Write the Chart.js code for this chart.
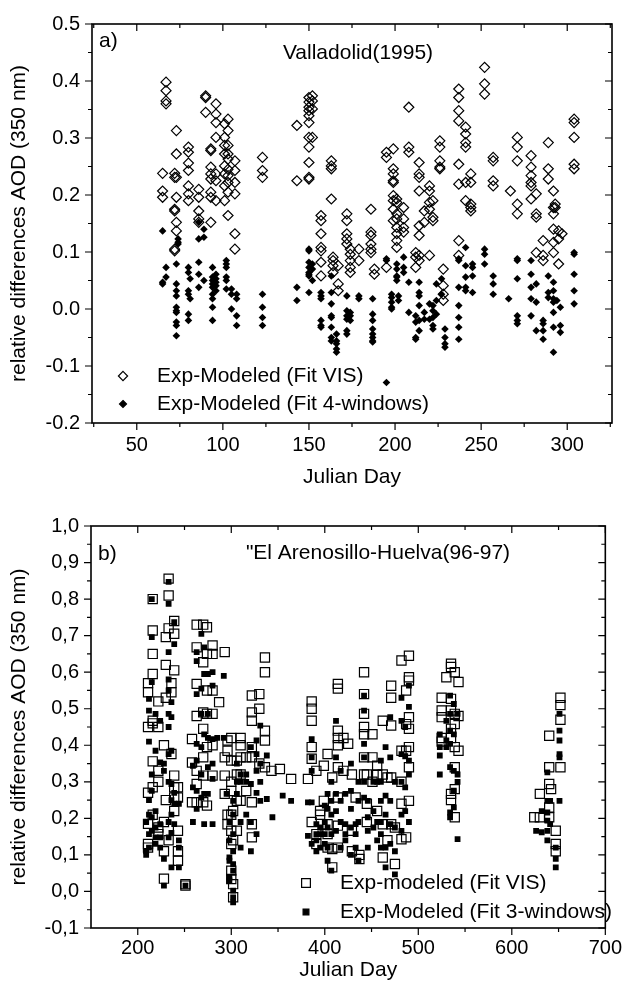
<!DOCTYPE html>
<html>

<head>
    <title>aod_relative_differences</title>
    <script src="https://cdn.jsdelivr.net/npm/chart.js"></script>
    <style>
        body {
            margin: 0;
            background: #fff;
        }

        .panel {
            position: absolute;
            left: 0;
            width: 630px;
            height: 495px;
        }

        #panelA { top: 0; }
        #panelB { top: 495px; }
    </style>
</head>

<body>
    <div class="panel" id="panelA"><canvas id="chartA"></canvas></div>
    <div class="panel" id="panelB"><canvas id="chartB"></canvas></div>
    <script>
        // ---- panel a) Valladolid 1995 : [julian day, [values...]] ----
        const visA = [
            [65, [0.238, 0.207, 0.196]], [67, [0.398, 0.383, 0.365, 0.36]],
            [72, [0.238, 0.231, 0.172, 0.175, 0.105, 0.102]], [73, [0.196, 0.272, 0.313, 0.231, 0.152, 0.137]],
            [80, [0.284, 0.275, 0.256, 0.243, 0.216, 0.202, 0.19]], [86, [0.21, 0.196, 0.172, 0.158, 0.152]],
            [90, [0.374, 0.371, 0.345]], [93, [0.281, 0.278, 0.249, 0.237, 0.228, 0.205, 0.196, 0.152]],
            [96, [0.36, 0.342, 0.327, 0.301, 0.237, 0.225, 0.19]],
            [101, [0.325, 0.301, 0.287, 0.272, 0.251, 0.237, 0.216, 0.19]],
            [103, [0.333, 0.313, 0.287, 0.272, 0.263, 0.245, 0.234, 0.222, 0.205, 0.164]],
            [107, [0.26, 0.243, 0.222, 0.202, 0.132, 0.105]], [123, [0.266, 0.243, 0.231]],
            [143, [0.322, 0.225]],
            [150, [0.371, 0.363, 0.354, 0.348, 0.339, 0.327, 0.301, 0.284, 0.257, 0.231, 0.228]],
            [152, [0.374, 0.365, 0.351, 0.301]], [157, [0.164, 0.155, 0.132, 0.108, 0.102, 0.082, 0.058]],
            [163, [0.26, 0.251, 0.246, 0.193]], [164, [0.091, 0.085, 0.076, 0.064]], [167, [0.076, 0.044, 0.032]],
            [172, [0.167, 0.155, 0.132, 0.123, 0.114]], [174, [0.105, 0.096, 0.085, 0.073, 0.064]],
            [179, [0.105, 0.085]], [186, [0.175, 0.135, 0.129, 0.114, 0.105, 0.099]], [188, [0.07, 0.061]],
            [195, [0.275, 0.266, 0.073]], [199, [0.281, 0.246, 0.237, 0.225, 0.222, 0.199, 0.19, 0.175, 0.155]],
            [201, [0.193, 0.187, 0.167, 0.158, 0.143, 0.132, 0.12, 0.108]], [205, [0.178, 0.158, 0.143, 0.135]],
            [208, [0.354, 0.284, 0.275]], [212, [0.099, 0.091, 0.073]],
            [214, [0.257, 0.237, 0.231, 0.207, 0.146, 0.129, 0.094, 0.085]], [217, [0.172, 0.152]],
            [220, [0.216, 0.207, 0.187, 0.175, 0.094]], [222, [0.19, 0.161, 0.155]],
            [226, [0.295, 0.284, 0.26, 0.249, 0.246]], [228, [0.07, 0.041, 0.026, 0.015]],
            [237, [0.386, 0.371, 0.348, 0.33, 0.254, 0.219, 0.12, 0.094]],
            [241, [0.319, 0.307, 0.292, 0.284, 0.222, 0.19]], [244, [0.237, 0.222, 0.184, 0.178, 0.172]],
            [252, [0.424, 0.395, 0.377]], [257, [0.266, 0.26, 0.225, 0.216]], [267, [0.207]],
            [271, [0.301, 0.284, 0.26, 0.184, 0.167]], [279, [0.269, 0.249, 0.234, 0.222, 0.216, 0.193]],
            [282, [0.202, 0.167, 0.161, 0.099]], [286, [0.12, 0.094, 0.085]], [289, [0.292, 0.246, 0.228]],
            [292, [0.207, 0.178, 0.167, 0.14, 0.117, 0.099]], [293, [0.184, 0.178]],
            [295, [0.137, 0.123, 0.079]], [297, [0.132]], [304, [0.333, 0.327, 0.301, 0.254, 0.246]]
        ];
        const fourA = [
            [65, [0.137, 0.047, 0.044]], [67, [0.073, 0.056]],
            [73, [0.079, 0.044, 0.032, 0.023, 0.003, -0.003, -0.006, -0.023, -0.029, -0.047]],
            [74, [0.123, 0.117, 0.114]], [80, [0.073, 0.064, 0.032, 0.026, -0.009, -0.02]], [81, [0.053, 0.018]],
            [86, [0.152, 0.123, 0.082, 0.061, 0.038]], [89, [0.14, 0.126, 0.05]],
            [94, [0.073, 0.056, 0.05, 0.044, 0.038, 0.026, 0.018, 0.003, -0.02]],
            [96, [0.061, 0.053, 0.047, 0.041, 0.032]], [102, [0.085, 0.079, 0.073, 0.056, 0.05, 0.035]],
            [105, [0.035, 0.026, 0.0]], [108, [0.026, 0.018, -0.012, -0.029]],
            [123, [0.026, 0.003, -0.015, -0.029]], [143, [0.038, 0.015]],
            [150, [0.105, 0.102, 0.082, 0.073, 0.064, 0.061, 0.058, 0.029]], [152, [0.079, 0.07, 0.05]],
            [157, [0.029, 0.023, 0.018, -0.02, -0.029, -0.032]],
            [163, [0.058, 0.029, 0.009, -0.012, -0.015, -0.032, -0.05, -0.056]],
            [166, [-0.044, -0.056, -0.061, -0.07, -0.076]], [172, [0.023, -0.003, -0.012, -0.018, -0.038, -0.044]],
            [174, [-0.006, -0.012, -0.02]], [179, [0.023, 0.018]],
            [187, [0.018, -0.009, -0.02, -0.035, -0.044, -0.05, -0.056, -0.058]], [195, [0.088, 0.085, -0.129]],
            [198, [0.026, 0.02, 0.012, 0.003, 0.0]], [201, [0.079, 0.07, 0.058, 0.056, 0.05]],
            [202, [0.023, 0.015]], [205, [0.091, 0.073, 0.064]], [208, [0.047, -0.006]],
            [212, [-0.012, -0.023, -0.05, -0.053]], [214, [0.047, 0.029, 0.023, 0.006, -0.02, -0.038]],
            [217, [-0.006, -0.018]], [220, [0.009, -0.018]], [222, [0.006, -0.003, -0.015, -0.029, -0.035]],
            [224, [0.044, 0.015, -0.009]], [227, [0.053, 0.026]], [229, [-0.035, -0.05, -0.061, -0.067]],
            [237, [0.088, 0.085, 0.038, 0.006, -0.015, -0.032, -0.053]], [241, [0.108, 0.076, 0.056, 0.038, 0.032]],
            [245, [0.079, 0.073, 0.058, 0.029]], [252, [0.105, 0.096, 0.079]], [257, [0.058, 0.044, 0.026]],
            [266, [0.018]], [271, [0.088, 0.085, 0.053, -0.012, -0.02, -0.026]],
            [279, [0.085, 0.061, 0.038, 0.018, -0.012]], [282, [0.044, 0.012, -0.038]],
            [286, [-0.02, -0.026, -0.038, -0.053]], [289, [0.058, 0.029, 0.02]],
            [292, [0.047, 0.032, 0.018, 0.012, -0.006, -0.032, -0.076]], [294, [0.015]],
            [296, [0.003, -0.029, -0.041]], [304, [0.099, 0.096, 0.061, 0.032, 0.009]]
        ];

        // ---- panel b) El Arenosillo-Huelva 96-97 ----
        const visB = [
            [211, [0.57, 0.545, 0.45, 0.27, 0.185, 0.13, 0.12]],
            [216, [0.8, 0.714, 0.65, 0.595, 0.467, 0.46, 0.356, 0.285, 0.21]],
            [222, [0.52, 0.45, 0.33, 0.3, 0.175, 0.157]], [228, [0.4, 0.19, 0.11, 0.035]],
            [230, [0.696, 0.62, 0.53, 0.25]], [233, [0.856, 0.81, 0.72, 0.14]], [236, [0.57, 0.545, 0.376]],
            [239, [0.74, 0.705, 0.605, 0.317, 0.285, 0.257, 0.22]], [243, [0.285, 0.257, 0.166, 0.11, 0.084]],
            [251, [0.02, 0.016]], [258, [0.417, 0.353, 0.244]],
            [263, [0.73, 0.668, 0.568, 0.48, 0.33, 0.294, 0.244]], [270, [0.73, 0.627, 0.49, 0.445, 0.367, 0.317, 0.244]],
            [274, [0.723, 0.65, 0.55, 0.486, 0.395, 0.235]], [280, [0.673, 0.65, 0.55, 0.486, 0.4, 0.317]],
            [287, [0.518]], [293, [0.655, 0.367, 0.317, 0.267]], [296, [0.413, 0.385, 0.21, 0.184]],
            [300, [0.42, 0.358, 0.3, 0.275, 0.21, 0.166, 0.13, 0.057, 0.034]], [302, [0.22, 0.14, 0.02, -0.016]],
            [306, [0.358, 0.32, 0.248, 0.166]], [310, [0.42, 0.4, 0.367, 0.32, 0.248]], [316, [0.367, 0.275]],
            [322, [0.536, 0.49, 0.467, 0.395, 0.367, 0.244, 0.184, 0.148]], [330, [0.54, 0.5, 0.35]],
            [336, [0.64, 0.6, 0.44, 0.413, 0.34]], [343, [0.33]], [352, [0.335]], [364, [0.308]],
            [382, [0.308]], [386, [0.52, 0.5, 0.467, 0.395, 0.363, 0.19]], [391, [0.33, 0.157, 0.13]],
            [395, [0.22, 0.21]], [399, [0.344, 0.248]], [403, [0.376, 0.184, 0.157, 0.12]],
            [408, [0.312, 0.116, 0.066]], [414, [0.568, 0.555, 0.44, 0.42, 0.4, 0.34, 0.257, 0.18, 0.12]],
            [420, [0.42, 0.33]], [425, [0.404]], [429, [0.32, 0.166, 0.11]], [433, [0.257]], [437, [0.1, 0.089]],
            [442, [0.6, 0.54, 0.486, 0.45, 0.43, 0.367, 0.32]], [445, [0.32, 0.24, 0.19]],
            [451, [0.43, 0.367, 0.3]], [456, [0.344, 0.32, 0.22]], [462, [0.467, 0.32, 0.184, 0.093]],
            [467, [0.312, 0.14]], [471, [0.563, 0.53, 0.454, 0.312, 0.184]], [475, [0.175, 0.075]],
            [482, [0.632, 0.385, 0.3, 0.24, 0.143]], [487, [0.55, 0.458, 0.385, 0.148]],
            [490, [0.645, 0.586, 0.577, 0.477, 0.445, 0.395, 0.34, 0.248]],
            [525, [0.53, 0.495, 0.477, 0.42, 0.41]], [530, [0.586]],
            [535, [0.623, 0.614, 0.527, 0.495, 0.445, 0.42, 0.267, 0.25]],
            [539, [0.6, 0.486, 0.458, 0.395, 0.34, 0.28, 0.203]], [543, [0.573, 0.48, 0.385]],
            [624, [0.203]], [630, [0.267, 0.203]], [640, [0.426, 0.34, 0.294, 0.23, 0.203]], [642, [0.28]],
            [647, [0.166, 0.13, 0.11]], [652, [0.53, 0.51, 0.47, 0.34]]
        ];
        const threeB = [
            [209, [0.19, 0.11, 0.1]], [212, [0.527, 0.495, 0.41, 0.25, 0.21, 0.157, 0.12]],
            [215, [0.8, 0.696, 0.573, 0.32, 0.275, 0.203, 0.166]], [219, [0.486, 0.385, 0.22, 0.175, 0.148, 0.13]],
            [224, [0.467, 0.353, 0.184, 0.148, 0.12]], [228, [0.35, 0.33, 0.089, 0.016]],
            [233, [0.847, 0.787, 0.655, 0.58, 0.55, 0.486, 0.45, 0.376, 0.3, 0.19, 0.148]],
            [236, [0.518, 0.477, 0.385, 0.294, 0.25, 0.21, 0.16, 0.066]], [239, [0.737, 0.677, 0.27, 0.24, 0.184]],
            [244, [0.24, 0.14, 0.12, 0.066]], [251, [0.016]], [259, [0.344, 0.285, 0.19]],
            [263, [0.655, 0.63, 0.54, 0.404, 0.358, 0.275, 0.226]], [268, [0.705, 0.555, 0.486, 0.395, 0.32, 0.257]],
            [271, [0.668, 0.595, 0.43, 0.267, 0.184]], [275, [0.595, 0.486, 0.42, 0.34, 0.267]],
            [280, [0.6, 0.563, 0.417, 0.35, 0.308, 0.184]], [285, [0.42]], [292, [0.59, 0.42]], [295, [0.267]],
            [298, [0.19, 0.14, 0.093, 0.084, 0.038, 0.03]],
            [302, [0.248, 0.21, 0.157, 0.11, 0.075, 0.057, 0.002, -0.016, -0.03]],
            [306, [0.35, 0.3, 0.267]], [310, [0.32, 0.3, 0.19, 0.12]], [316, [0.32, 0.3, 0.21]],
            [321, [0.395, 0.294, 0.19, 0.11]], [327, [0.413, 0.376, 0.33, 0.27, 0.157]],
            [331, [0.454, 0.35, 0.3, 0.248]], [338, [0.372, 0.253]], [344, [0.203]], [355, [0.262]], [364, [0.248]],
            [382, [0.244, 0.152]], [386, [0.417, 0.367, 0.33, 0.244, 0.13]], [391, [0.184, 0.157, 0.14, 0.11]],
            [395, [0.175, 0.157, 0.12]], [400, [0.235, 0.19, 0.157, 0.13]], [403, [0.267, 0.226, 0.175, 0.12, 0.084]],
            [407, [0.3, 0.248, 0.21, 0.157, 0.057]], [412, [0.467, 0.367, 0.267, 0.22, 0.166]],
            [417, [0.33, 0.248, 0.19, 0.12]], [422, [0.267, 0.184, 0.157, 0.14]],
            [428, [0.35, 0.275, 0.226, 0.175, 0.1]], [433, [0.184, 0.157, 0.12]], [436, [0.3, 0.248, 0.19, 0.084]],
            [442, [0.536, 0.495, 0.404, 0.367, 0.3, 0.257]], [446, [0.248, 0.203, 0.166, 0.12]],
            [452, [0.3, 0.22, 0.175]], [456, [0.3, 0.19, 0.14]], [460, [0.358, 0.3, 0.248, 0.19, 0.157, 0.12]],
            [465, [0.395, 0.262, 0.21, 0.12, 0.066]], [470, [0.477, 0.367, 0.248, 0.184, 0.13]],
            [475, [0.3, 0.175, 0.11, 0.047]], [482, [0.53, 0.467, 0.376, 0.3, 0.21, 0.166]],
            [486, [0.45, 0.37, 0.285, 0.22]], [490, [0.563, 0.505, 0.358, 0.32, 0.19]],
            [523, [0.43, 0.395, 0.372, 0.32]], [530, [0.467, 0.413, 0.395]],
            [534, [0.536, 0.486, 0.44, 0.404, 0.34, 0.216, 0.203]], [538, [0.513, 0.43, 0.33, 0.276, 0.23]],
            [542, [0.486, 0.32, 0.3, 0.143]], [626, [0.166]], [632, [0.22, 0.162]],
            [638, [0.326, 0.248, 0.216, 0.194, 0.166, 0.14]], [641, [0.248, 0.184]], [647, [0.12, 0.089, 0.066]],
            [651, [0.486, 0.44, 0.413, 0.376, 0.367, 0.248]]
        ];

        // ---- ticks and texts ----
        const xTicksA = [50, 100, 150, 200, 250, 300];
        const yTicksA = [-0.2, -0.1, 0.0, 0.1, 0.2, 0.3, 0.4, 0.5];
        const yLabelsA = ['-0.2', '-0.1', '0.0', '0.1', '0.2', '0.3', '0.4', '0.5'];
        const xTicksB = [200, 300, 400, 500, 600, 700];
        const yTicksB = [-0.1, 0.0, 0.1, 0.2, 0.3, 0.4, 0.5, 0.6, 0.7, 0.8, 0.9, 1.0];
        const yLabelsB = ['-0,1', '0,0', '0,1', '0,2', '0,3', '0,4', '0,5', '0,6', '0,7', '0,8', '0,9', '1,0'];
        const labelsA = ['Exp-Modeled (Fit VIS)', 'Exp-Modeled (Fit 4-windows)'];
        const labelsB = ['Exp-modeled (Fit VIS)', 'Exp-Modeled (Fit 3-windows)'];
        const xTitle = 'Julian Day';
        const yTitle = 'relative differences AOD (350 nm)';

        const FONT = "'Liberation Sans', Arial, sans-serif";
        Chart.defaults.font.family = FONT;
        Chart.defaults.color = '#000';

        function toPoints(groups) {
            const pts = [];
            groups.forEach(([day, vals]) => vals.forEach(v => pts.push({ x: day, y: v })));
            return pts;
        }

        function drawMarker(ctx, style, x, y, r, fill) {
            ctx.beginPath();
            if (style === 'rectRot') {
                ctx.moveTo(x, y - r); ctx.lineTo(x + r, y); ctx.lineTo(x, y + r); ctx.lineTo(x - r, y);
            } else {
                const s = r * Math.SQRT1_2;
                ctx.rect(x - s, y - s, 2 * s, 2 * s);
            }
            ctx.closePath();
            if (fill) { ctx.fillStyle = '#000'; ctx.fill(); }
            ctx.strokeStyle = '#000';
            ctx.lineWidth = 1.2;
            ctx.stroke();
        }

        // box with outward ticks bottom/left, inward ticks top/right, minor ticks halfway
        const framePlugin = {
            id: 'frame',
            afterDatasetsDraw(chart, args, opts) {
                const { ctx, chartArea: a, scales: { x, y } } = chart;
                const mids = (t, step, min, max) => {
                    const out = [];
                    for (let v = t[0] - step / 2; v < max; v += step) if (v > min) out.push(v);
                    return out;
                };
                const xMaj = opts.xTicks, yMaj = opts.yTicks;
                const xMin = mids(xMaj, xMaj[1] - xMaj[0], x.min, x.max);
                const yMin = mids(yMaj, yMaj[1] - yMaj[0], y.min, y.max);
                ctx.save();
                ctx.strokeStyle = '#000';
                ctx.lineWidth = 1.2;
                ctx.beginPath();
                [[xMaj, 7], [xMin, 4]].forEach(([vals, len]) => vals.forEach(v => {
                    const px = x.getPixelForValue(v);
                    ctx.moveTo(px, a.bottom); ctx.lineTo(px, a.bottom + len);
                    ctx.moveTo(px, a.top); ctx.lineTo(px, a.top + len);
                }));
                [[yMaj, 7], [yMin, 4]].forEach(([vals, len]) => vals.forEach(v => {
                    const py = y.getPixelForValue(v);
                    ctx.moveTo(a.left, py); ctx.lineTo(a.left - len, py);
                    ctx.moveTo(a.right, py); ctx.lineTo(a.right - len, py);
                }));
                ctx.stroke();
                ctx.lineWidth = 1.6;
                ctx.strokeRect(a.left, a.top, a.right - a.left, a.bottom - a.top);
                ctx.restore();
            }
        };

        const notesPlugin = {
            id: 'notes',
            afterDraw(chart, args, opts) {
                const ctx = chart.ctx;
                ctx.save();
                ctx.font = '21px ' + FONT;
                ctx.textBaseline = 'middle';
                ctx.fillStyle = '#000';
                opts.texts.forEach(t => {
                    ctx.textAlign = t.align;
                    ctx.fillText(t.text, t.x, t.y);
                });
                ctx.textAlign = 'left';
                chart.data.datasets.forEach((ds, i) => {
                    const yy = opts.legend.rows[i];
                    drawMarker(ctx, ds.pointStyle, opts.legend.symbolX, yy, opts.legend.sizes[i], ds.backgroundColor !== 'transparent');
                    ctx.fillStyle = '#000';
                    ctx.fillText(ds.label, opts.legend.textX, yy);
                });
                ctx.restore();
            }
        };

        function makeChart(id, c) {
            return new Chart(document.getElementById(id), {
                type: 'scatter',
                data: {
                    datasets: [{
                        label: c.labels[0],
                        data: toPoints(c.open),
                        pointStyle: c.style,
                        pointRadius: c.radius[0],
                        borderWidth: 1.2,
                        borderColor: '#000',
                        backgroundColor: 'transparent'
                    }, {
                        label: c.labels[1],
                        data: toPoints(c.filled),
                        pointStyle: c.style,
                        pointRadius: c.radius[1],
                        borderWidth: 0,
                        borderColor: '#000',
                        backgroundColor: '#000'
                    }]
                },
                options: {
                    responsive: true,
                    maintainAspectRatio: false,
                    animation: false,
                    devicePixelRatio: 1,
                    events: [],
                    layout: { padding: { top: c.padTop, right: c.padRight, left: 0, bottom: 0 } },
                    plugins: {
                        legend: { display: false },
                        tooltip: { enabled: false },
                        frame: { xTicks: c.xTicks, yTicks: c.yTicks },
                        notes: { texts: c.texts, legend: c.legend }
                    },
                    scales: {
                        x: {
                            type: 'linear',
                            min: c.xRange[0],
                            max: c.xRange[1],
                            afterBuildTicks: s => { s.ticks = c.xTicks.map(v => ({ value: v })); },
                            afterFit: s => { s.height = c.xHeight; },
                            grid: { display: false, drawTicks: false },
                            border: { display: false },
                            ticks: { font: { size: 20 }, padding: c.xPad, autoSkip: false, maxRotation: 0 },
                            title: { display: true, text: xTitle, font: { size: 21 }, padding: { top: 0, bottom: c.xTitlePad } }
                        },
                        y: {
                            min: c.yRange[0],
                            max: c.yRange[1],
                            afterBuildTicks: s => { s.ticks = c.yTicks.map(v => ({ value: v })); },
                            afterFit: s => { s.width = c.yWidth; },
                            grid: { display: false, drawTicks: false },
                            border: { display: false },
                            ticks: { font: { size: 20 }, padding: 12, autoSkip: false, callback: (v, i) => c.yLabels[i] },
                            title: { display: true, text: yTitle, font: { size: 21 }, padding: { top: 7, bottom: 0 } }
                        }
                    }
                },
                plugins: [framePlugin, notesPlugin]
            });
        }

        makeChart('chartA', {
            open: visA, filled: fourA, labels: labelsA, style: 'rectRot', radius: [5, 3.8],
            xRange: [24, 326], yRange: [-0.2, 0.5], xTicks: xTicksA, yTicks: yTicksA, yLabels: yLabelsA,
            padTop: 23, padRight: 18, xHeight: 72, yWidth: 92, xPad: 10, xTitlePad: 5,
            texts: [
                { text: 'a)', x: 99, y: 41, align: 'left' },
                { text: 'Valladolid(1995)', x: 358, y: 53, align: 'center' }
            ],
            legend: { symbolX: 123, textX: 157, rows: [376, 404], sizes: [4.6, 3.5] }
        });

        makeChart('chartB', {
            open: visB, filled: threeB, labels: labelsB, style: 'rect', radius: [6.5, 4.1],
            xRange: [150, 700], yRange: [-0.1, 1.0], xTicks: xTicksB, yTicks: yTicksB, yLabels: yLabelsB,
            padTop: 31, padRight: 19, xHeight: 62, yWidth: 91, xPad: 8, xTitlePad: 7,
            texts: [
                { text: 'b)', x: 98, y: 59, align: 'left' },
                { text: '"El Arenosillo-Huelva(96-97)', x: 378, y: 58, align: 'center' }
            ],
            legend: { symbolX: 306, textX: 340, rows: [388, 417], sizes: [6.2, 4.1] }
        });
    </script>
</body>

</html>
